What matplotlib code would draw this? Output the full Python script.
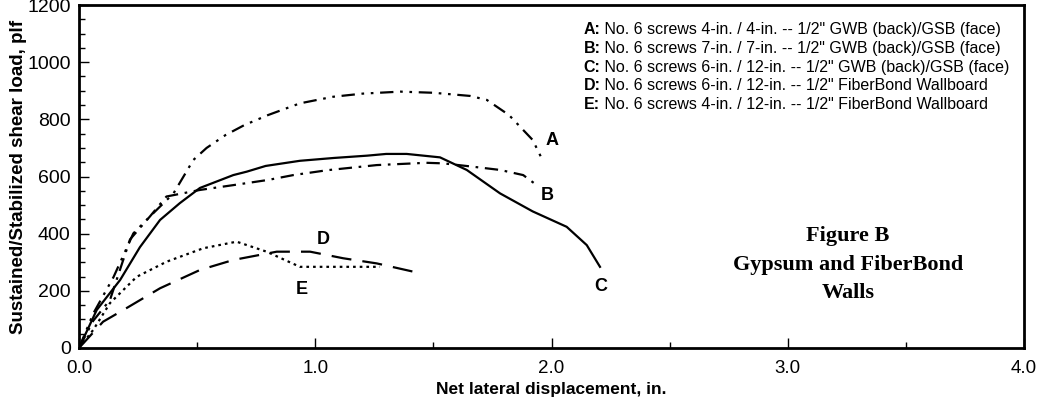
import matplotlib
matplotlib.use("Agg")
import matplotlib.pyplot as plt
from matplotlib.ticker import MultipleLocator, FormatStrFormatter

plt.rcParams['font.family'] = ['Liberation Sans', 'DejaVu Sans']

# A: 4-in / 4-in GWB/GSB
a_x = [0.0, 0.06, 0.146, 0.23, 0.30, 0.40, 0.484, 0.54, 0.62, 0.70, 0.80, 0.935, 1.075, 1.20, 1.36, 1.50, 1.655, 1.726, 1.82, 1.92, 1.965]
a_y = [0, 120, 248, 401, 460, 541, 658, 700, 745, 780, 815, 856, 879, 890, 897, 893, 882, 868, 815, 728, 652]
# B: 7-in / 7-in GWB/GSB
b_x = [0.0, 0.06, 0.131, 0.216, 0.30, 0.37, 0.512, 0.654, 0.80, 0.907, 1.05, 1.26, 1.47, 1.542, 1.66, 1.782, 1.88, 1.937]
b_y = [0, 95, 168, 380, 460, 530, 553, 570, 588, 605, 622, 640, 648, 646, 635, 623, 605, 570]
# C: 6-in / 12-in GWB/GSB
c_x = [0.0, 0.075, 0.174, 0.258, 0.343, 0.427, 0.512, 0.653, 0.71, 0.79, 0.935, 1.08, 1.22, 1.30, 1.387, 1.528, 1.641, 1.782, 1.92, 2.064, 2.149, 2.205]
c_y = [0, 133, 238, 353, 448, 507, 560, 605, 617, 637, 655, 665, 673, 679, 679, 667, 623, 541, 478, 424, 360, 284]
# D: 6-in / 12-in FiberBond
d_x = [0.0, 0.102, 0.20, 0.343, 0.512, 0.653, 0.837, 0.978, 1.118, 1.26, 1.415]
d_y = [0, 92, 139, 209, 273, 308, 337, 337, 314, 296, 267]
# E: 4-in / 12-in FiberBond
e_x = [0.0, 0.06, 0.131, 0.244, 0.371, 0.526, 0.667, 0.794, 0.935, 1.118, 1.274]
e_y = [0, 63, 157, 249, 302, 349, 372, 337, 284, 284, 284]

legend_keys = ['A:', 'B:', 'C:', 'D:', 'E:']
legend_text = [
    'No. 6 screws 4-in. / 4-in. -- 1/2" GWB (back)/GSB (face)',
    'No. 6 screws 7-in. / 7-in. -- 1/2" GWB (back)/GSB (face)',
    'No. 6 screws 6-in. / 12-in. -- 1/2" GWB (back)/GSB (face)',
    'No. 6 screws 6-in. / 12-in. -- 1/2" FiberBond Wallboard',
    'No. 6 screws 4-in. / 12-in. -- 1/2" FiberBond Wallboard',
]

fig = plt.figure(figsize=(10.45, 4.03), dpi=100)
ax = fig.add_axes([0.0756, 0.1365, 0.9044, 0.851])

lw = 1.6
ax.plot(a_x, a_y, color='black', lw=lw, linestyle=(0, (6, 3, 1.2, 3, 1.2, 3)))
ax.plot(b_x, b_y, color='black', lw=lw, linestyle=(0, (6, 3, 1.2, 3)))
ax.plot(c_x, c_y, color='black', lw=lw, linestyle='-')
ax.plot(d_x, d_y, color='black', lw=lw, linestyle=(0, (9, 5)))
ax.plot(e_x, e_y, color='black', lw=lw, linestyle=(0, (1.2, 1.8)))

lab = dict(fontsize=13, fontweight='bold', color='black', ha='center', va='center')
ax.text(2.0, 725, 'A', **lab)
ax.text(1.98, 535, 'B', **lab)
ax.text(2.21, 214, 'C', **lab)
ax.text(1.034, 378, 'D', **lab)
ax.text(0.943, 203, 'E', **lab)

# legend block
for i, (k, t) in enumerate(zip(legend_keys, legend_text)):
    y = 1113 - i * 65
    tk = ax.text(2.135, y, k, fontsize=11.5, fontweight='bold', va='center')
    ax.annotate(' ' + t, xycoords=tk, xy=(1, 0.5), va='center', fontsize=11.5)

fb = dict(fontsize=16, fontweight='bold', family='Liberation Serif', ha='center', va='center')
ax.text(3.255, 392, 'Figure B', **fb)
ax.text(3.255, 290, 'Gypsum and FiberBond', **fb)
ax.text(3.255, 192, 'Walls', **fb)

ax.set_xlim(0, 4.0)
ax.set_ylim(0, 1200)
ax.xaxis.set_major_locator(MultipleLocator(1.0))
ax.xaxis.set_minor_locator(MultipleLocator(0.5))
ax.yaxis.set_major_locator(MultipleLocator(200))
ax.yaxis.set_minor_locator(MultipleLocator(50))
ax.xaxis.set_major_formatter(FormatStrFormatter('%.1f'))
ax.tick_params(direction='in', which='major', length=7, width=1)
ax.tick_params(direction='in', which='minor', length=4, width=1)
ax.tick_params(axis='x', pad=9, labelsize=13.5)
ax.tick_params(axis='y', pad=6, labelsize=14)
for s in ax.spines.values():
    s.set_linewidth(2)

ax.set_xlabel('Net lateral displacement, in.', fontsize=12.5, fontweight='bold', labelpad=3)
ax.set_ylabel('Sustained/Stabilized shear load, plf', fontsize=13.5, fontweight='bold', labelpad=0)

fig.savefig('out.png', dpi=100)
